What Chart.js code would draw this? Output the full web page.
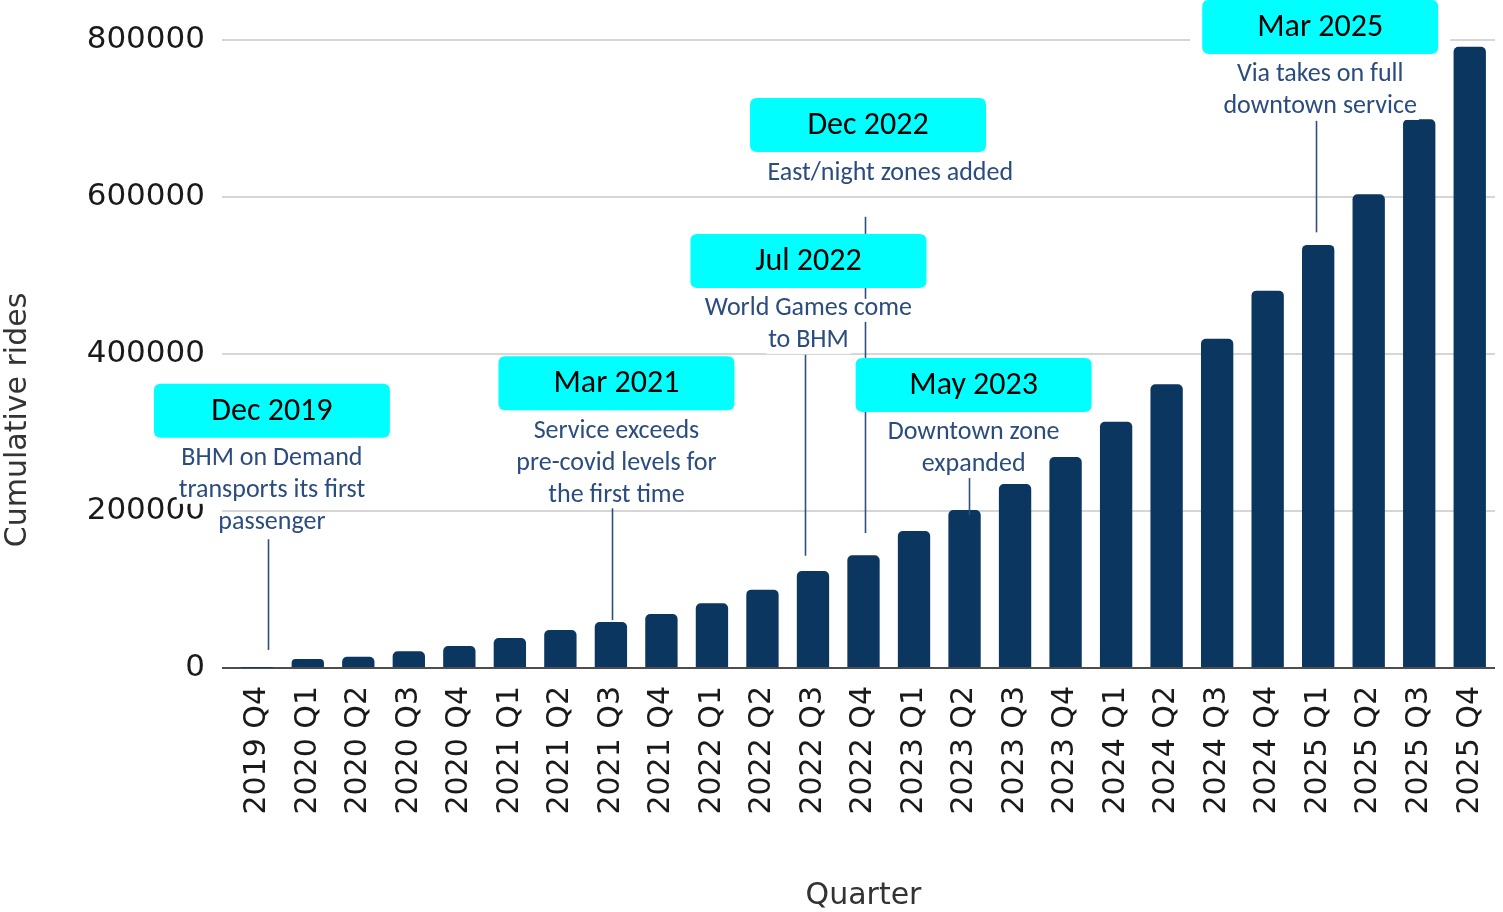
<!DOCTYPE html>
<html>
<head>
<meta charset="utf-8">
<title>Cumulative rides by quarter</title>
<script src="https://cdn.jsdelivr.net/npm/chart.js@4.4.1/dist/chart.umd.min.js"></script>
<style>
  html, body { margin: 0; padding: 0; background: #fff; }
  #wrap { width: 1503px; height: 912px; }
</style>
</head>
<body>
<div id="wrap"><canvas id="ridesChart" width="1503" height="912"></canvas></div>
<script>
// quarters on the x axis
const quarters = [
  '2019 Q4', '2020 Q1', '2020 Q2', '2020 Q3', '2020 Q4',
  '2021 Q1', '2021 Q2', '2021 Q3', '2021 Q4',
  '2022 Q1', '2022 Q2', '2022 Q3', '2022 Q4',
  '2023 Q1', '2023 Q2', '2023 Q3', '2023 Q4',
  '2024 Q1', '2024 Q2', '2024 Q3', '2024 Q4',
  '2025 Q1', '2025 Q2', '2025 Q3', '2025 Q4'
];

// cumulative rides at end of each quarter
const cumulativeRides = [
  300, 11500, 14400, 21300, 28000,
  38200, 48400, 58600, 68800,
  82400, 99800, 123600, 143500,
  174500, 201300, 234400, 268800,
  313800, 361400, 419500, 480700,
  539000, 603500, 699000, 791500
];

const yTicks = [0, 200000, 400000, 600000, 800000];

// milestone call-outs
const eventDates = ['Dec 2019', 'Mar 2021', 'Jul 2022', 'Dec 2022', 'May 2023', 'Mar 2025'];
const eventNotes = [
  ['BHM on Demand', 'transports its first', 'passenger'],
  ['Service exceeds', 'pre-covid levels for', 'the first time'],
  ['World Games come', 'to BHM'],
  ['East/night zones added'],
  ['Downtown zone', 'expanded'],
  ['Via takes on full', 'downtown service']
];
// where each call-out sits (category index / axis value)
const boxAt = [0.29, 7.11, 10.91, 12.09, 14.18, 21.04];
const boxTop = [362000, 397000, 553000, 726000, 395000, 851000];
const noteShift = [0, 0, 0, 0.44, 0, 0];
const leaderAt = [0.21, 7.02, 10.84, 12.03, 14.09, 20.96];
const leaderFrom = [164000, 204000, 399000, 575000, 242000, 697000];
const leaderTo = [23000, 61000, 143000, 172000, 195000, 555000];

const axisFamily = "'DejaVu Sans', Verdana, sans-serif";
const calloutFamily = "Carlito, Lato, 'Open Sans', sans-serif";

function roundRect(c, x, y, w, h, r) {
  c.beginPath();
  c.moveTo(x + r, y);
  c.lineTo(x + w - r, y);
  c.quadraticCurveTo(x + w, y, x + w, y + r);
  c.lineTo(x + w, y + h - r);
  c.quadraticCurveTo(x + w, y + h, x + w - r, y + h);
  c.lineTo(x + r, y + h);
  c.quadraticCurveTo(x, y + h, x, y + h - r);
  c.lineTo(x, y + r);
  c.quadraticCurveTo(x, y, x + r, y);
  c.closePath();
}

const calloutPlugin = {
  id: 'callouts',
  afterDraw(chart) {
    const c = chart.ctx;
    const xs = chart.scales.x, ys = chart.scales.y;
    const step = xs.getPixelForValue(1) - xs.getPixelForValue(0);
    const px = i => xs.getPixelForValue(0) + i * step;

    c.save();
    // y axis title
    c.save();
    c.translate(18, 420);
    c.rotate(-Math.PI / 2);
    c.font = `30px ${axisFamily}`;
    c.fillStyle = '#333';
    c.textAlign = 'center';
    c.textBaseline = 'middle';
    c.fillText('Cumulative rides', 0, 0);
    c.restore();

    // leader lines
    c.strokeStyle = '#2f4f80';
    c.lineWidth = 1.6;
    leaderAt.forEach((li, k) => {
      const x = Math.round(px(li)) + 0.5;
      c.beginPath();
      c.moveTo(x, ys.getPixelForValue(leaderFrom[k]));
      c.lineTo(x, ys.getPixelForValue(leaderTo[k]));
      c.stroke();
    });

    const boxW = 236, boxH = 54;
    eventDates.forEach((label, k) => {
      const cx = px(boxAt[k]);
      const top = ys.getPixelForValue(boxTop[k]);
      // white margin, then cyan box
      c.fillStyle = '#fff';
      c.fillRect(cx - boxW / 2 - 12, top, boxW + 24, boxH);
      c.fillStyle = '#00ffff';
      roundRect(c, cx - boxW / 2, top, boxW, boxH, 7);
      c.fill();
      c.fillStyle = '#000';
      c.font = `32px ${calloutFamily}`;
      c.textAlign = 'center';
      c.textBaseline = 'middle';
      c.fillText(label, cx, top + boxH / 2 + 1);

      // description lines
      c.font = `26px ${calloutFamily}`;
      const nx = px(boxAt[k] + noteShift[k]);
      eventNotes[k].forEach((line, j) => {
        const ny = top + boxH + 21 + j * 32;
        const w = c.measureText(line).width;
        c.fillStyle = '#fff';
        c.fillRect(nx - w / 2 - 2, ny - 10, w + 4, 23);
        c.fillStyle = '#2b4c7e';
        c.fillText(line, nx, ny);
      });
    });
    c.restore();
  }
};

const ctx = document.getElementById('ridesChart').getContext('2d');

new Chart(ctx, {
  type: 'bar',
  data: {
    labels: quarters,
    datasets: [{
      label: 'Cumulative rides',
      data: cumulativeRides,
      backgroundColor: '#0b3660',
      borderRadius: 5,
      barPercentage: 0.64,
      categoryPercentage: 1
    }]
  },
  options: {
    responsive: false,
    animation: false,
    layout: { padding: { top: 40, right: 8, left: 0, bottom: 0 } },
    plugins: {
      legend: { display: false },
      tooltip: { enabled: false }
    },
    scales: {
      x: {
        offset: true,
        grid: { display: false, drawTicks: false },
        border: { display: false },
        ticks: {
          font: { family: axisFamily, size: 30 },
          color: '#1a1a1a',
          minRotation: 90,
          maxRotation: 90,
          autoSkip: false,
          padding: 18
        },
        title: {
          display: true,
          text: 'Quarter',
          font: { family: axisFamily, size: 30 },
          color: '#333',
          padding: { top: 0, bottom: -2 }
        },
        afterFit(scale) {
          scale.height = 244;
          scale.paddingLeft = 0;
          scale.paddingRight = 0;
        }
      },
      y: {
        min: 0,
        max: 800000,
        afterBuildTicks(scale) { scale.ticks = yTicks.map(v => ({ value: v })); },
        ticks: {
          font: { family: axisFamily, size: 31 },
          color: '#1a1a1a',
          padding: 17,
          callback: v => String(v)
        },
        grid: {
          color: c => (c.tick && c.tick.value === 0 ? '#4d4d4d' : '#d6d6d6'),
          lineWidth: 2,
          tickLength: 10
        },
        border: { display: false },
        afterFit(scale) { scale.width = 232; }
      }
    }
  },
  plugins: [calloutPlugin]
});
</script>
</body>
</html>
